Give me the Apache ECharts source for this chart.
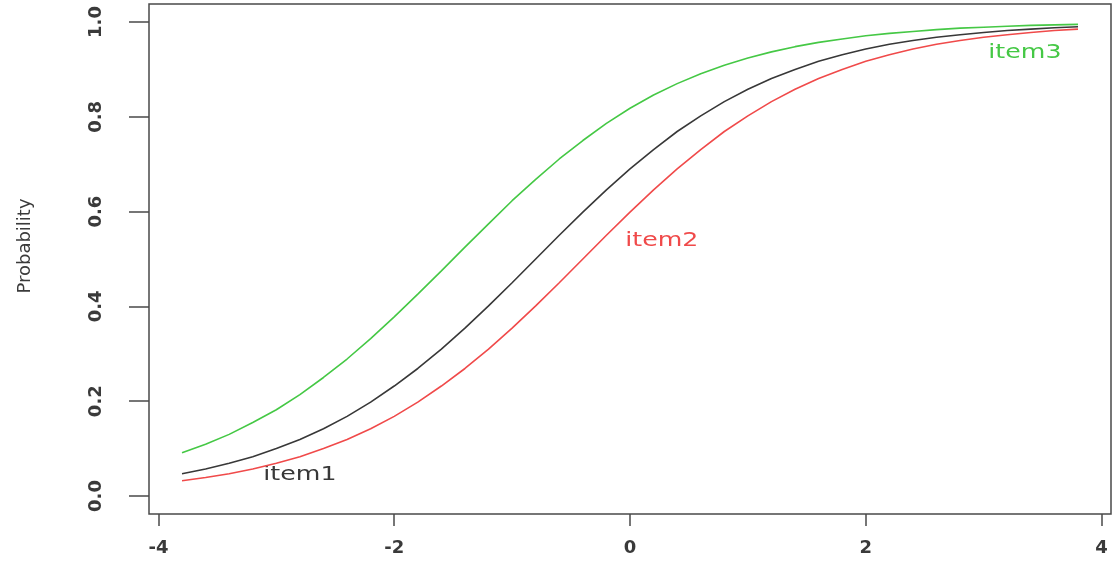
<!DOCTYPE html>
<html>
<head>
<meta charset="utf-8">
<script src="https://cdn.jsdelivr.net/npm/echarts@6/dist/echarts.min.js"></script>
<style>
html,body{margin:0;padding:0;background:#fff;}
#c{width:1113px;height:562px;}
</style>
</head>
<body>
<div id="c"></div>
<script>
// ability values (theta)
var theta = [-3.8,-3.6,-3.4,-3.2,-3.0,-2.8,-2.6,-2.4,-2.2,-2.0,-1.8,-1.6,-1.4,-1.2,-1.0,-0.8,-0.6,-0.4,-0.2,0.0,
             0.2,0.4,0.6,0.8,1.0,1.2,1.4,1.6,1.8,2.0,2.2,2.4,2.6,2.8,3.0,3.2,3.4,3.6,3.8];
var item1 = [0.047,0.057,0.069,0.083,0.100,0.119,0.142,0.168,0.198,0.232,0.269,0.310,0.354,0.401,0.450,0.500,0.550,0.599,0.646,0.690,
             0.731,0.769,0.802,0.832,0.858,0.881,0.900,0.917,0.931,0.943,0.953,0.961,0.968,0.973,0.978,0.982,0.985,0.988,0.990];
var item2 = [0.032,0.039,0.047,0.057,0.069,0.083,0.100,0.119,0.142,0.168,0.198,0.232,0.269,0.310,0.354,0.401,0.450,0.500,0.550,0.599,
             0.646,0.690,0.731,0.769,0.802,0.832,0.858,0.881,0.900,0.917,0.931,0.943,0.953,0.961,0.968,0.973,0.978,0.982,0.985];
var item3 = [0.091,0.109,0.130,0.155,0.182,0.214,0.250,0.289,0.332,0.378,0.426,0.475,0.525,0.574,0.623,0.668,0.711,0.750,0.786,0.818,
             0.846,0.870,0.891,0.909,0.924,0.937,0.948,0.957,0.964,0.971,0.976,0.980,0.984,0.987,0.989,0.991,0.993,0.994,0.995];
var seriesNames = ['item1','item2','item3'];
var xTicks = [-4,-2,0,2,4];
var yTicks = [0.0,0.2,0.4,0.6,0.8,1.0];
var labelX = [-2.80, 0.27, 3.35];
var labelY = [0.044, 0.538, 0.935];

var colors = ['#383838','#f04a4a','#45c845'];
function pairs(ys){ return theta.map(function(t,i){return [t, ys[i]];}); }
var allSeries = [item1,item2,item3];

var chart = echarts.init(document.getElementById('c'), null, {renderer:'canvas'});
var font = 'DejaVu Sans, Liberation Sans, sans-serif';
chart.setOption({
  animation:false,
  backgroundColor:'#fff',
  grid:{left:149,right:2,top:4,bottom:48,show:true,borderColor:'#4a4a4a',borderWidth:1.5,backgroundColor:'transparent'},
  xAxis:{type:'value',min:-4.08,max:4.08,
    axisLine:{show:false,onZero:false},
    splitLine:{show:false},
    axisTick:{show:true,inside:false,length:12,lineStyle:{color:'#4a4a4a',width:1.5},customValues:xTicks},
    axisLabel:{customValues:xTicks,fontFamily:font,fontSize:18,fontWeight:'bold',color:'#3a3a3a',margin:25,
      formatter:function(v){return String(v);} }
  },
  yAxis:{type:'value',min:-0.038,max:1.038,
    name:'Probability',nameLocation:'middle',nameRotate:90,nameGap:115,
    nameTextStyle:{fontFamily:font,fontSize:18,color:'#3a3a3a',padding:[0,0,0,26]},
    axisLine:{show:false,onZero:false},
    splitLine:{show:false},
    axisTick:{show:true,inside:false,length:20,lineStyle:{color:'#4a4a4a',width:1.5},customValues:yTicks},
    axisLabel:{customValues:yTicks,rotate:90,fontFamily:font,fontSize:18,fontWeight:'bold',color:'#3a3a3a',margin:44,
      formatter:function(v){return v.toFixed(1);} }
  },
  series: allSeries.map(function(s,i){
    return {name:seriesNames[i],type:'line',data:pairs(s),showSymbol:false,smooth:false,
      lineStyle:{color:colors[i],width:1.6},itemStyle:{color:colors[i]}};
  })
});

var g = seriesNames.map(function(n,i){
  var p = chart.convertToPixel({gridIndex:0},[labelX[i],labelY[i]]);
  return {type:'text',x:p[0],y:p[1],scaleX:1.33,
    style:{text:n,fill:colors[i],font:'19px DejaVu Sans',textAlign:'center',textVerticalAlign:'middle'}};
});
chart.setOption({graphic:g});
</script>
</body>
</html>
